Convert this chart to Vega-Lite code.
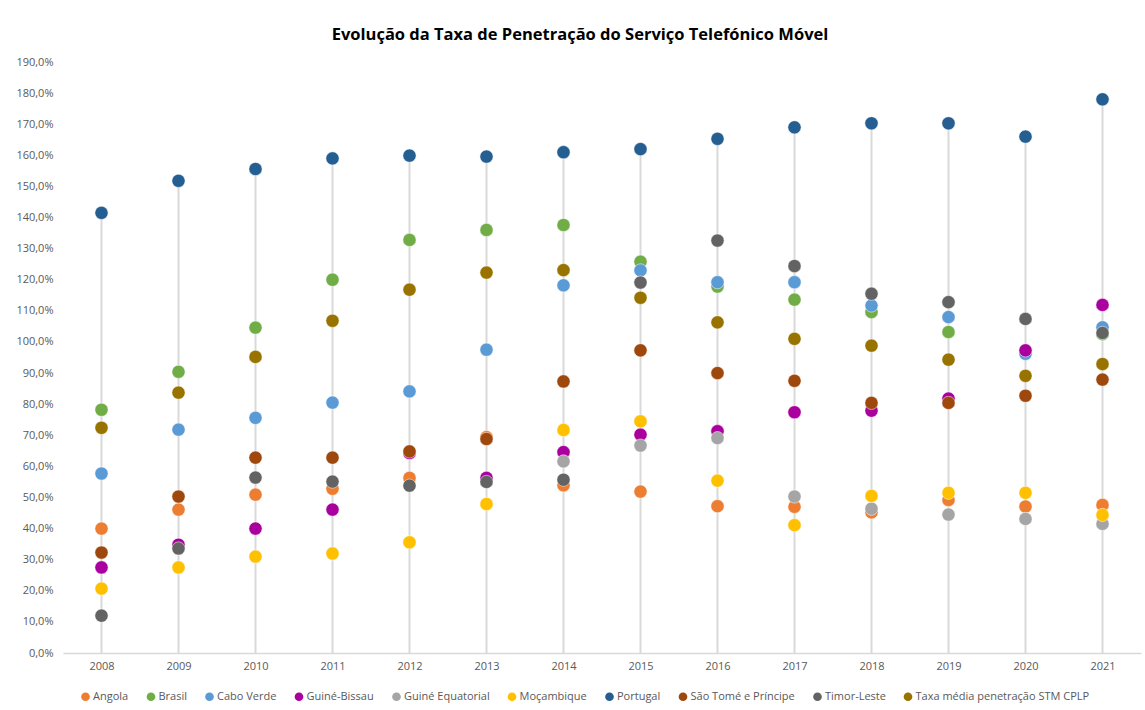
{
  "$schema": "https://vega.github.io/schema/vega-lite/v6.json",
  "width": 1078,
  "height": 591,
  "autosize": {"type": "none"},
  "padding": {"left": 63, "top": 62, "right": 4, "bottom": 57},
  "background": "white",
  "title": {
    "text": "Evolução da Taxa de Penetração do Serviço Telefónico Móvel",
    "fontSize": 16.5,
    "fontWeight": "bold",
    "font": "Open Sans",
    "color": "#000000",
    "anchor": "middle",
    "dx": -22,
    "offset": 13
  },
  "config": {
    "view": {"stroke": null},
    "font": "Open Sans",
    "axisY": {"labelOverlap": false}
  },
  "data": {
    "values": [
      {"pais": "Angola", "ano": "2008", "taxa": 40.0},
      {"pais": "Angola", "ano": "2009", "taxa": 46.1},
      {"pais": "Angola", "ano": "2010", "taxa": 50.9},
      {"pais": "Angola", "ano": "2011", "taxa": 52.8},
      {"pais": "Angola", "ano": "2012", "taxa": 56.3},
      {"pais": "Angola", "ano": "2013", "taxa": 69.4},
      {"pais": "Angola", "ano": "2014", "taxa": 53.9},
      {"pais": "Angola", "ano": "2015", "taxa": 51.9},
      {"pais": "Angola", "ano": "2016", "taxa": 47.2},
      {"pais": "Angola", "ano": "2017", "taxa": 47.0},
      {"pais": "Angola", "ano": "2018", "taxa": 45.2},
      {"pais": "Angola", "ano": "2019", "taxa": 49.2},
      {"pais": "Angola", "ano": "2020", "taxa": 47.1},
      {"pais": "Angola", "ano": "2021", "taxa": 47.6},
      {"pais": "Brasil", "ano": "2008", "taxa": 78.2},
      {"pais": "Brasil", "ano": "2009", "taxa": 90.4},
      {"pais": "Brasil", "ano": "2010", "taxa": 104.6},
      {"pais": "Brasil", "ano": "2011", "taxa": 120.0},
      {"pais": "Brasil", "ano": "2012", "taxa": 132.8},
      {"pais": "Brasil", "ano": "2013", "taxa": 136.0},
      {"pais": "Brasil", "ano": "2014", "taxa": 137.6},
      {"pais": "Brasil", "ano": "2015", "taxa": 125.8},
      {"pais": "Brasil", "ano": "2016", "taxa": 117.8},
      {"pais": "Brasil", "ano": "2017", "taxa": 113.6},
      {"pais": "Brasil", "ano": "2018", "taxa": 109.6},
      {"pais": "Brasil", "ano": "2019", "taxa": 103.2},
      {"pais": "Brasil", "ano": "2020", "taxa": 96.5},
      {"pais": "Brasil", "ano": "2021", "taxa": 102.5},
      {"pais": "Cabo Verde", "ano": "2008", "taxa": 57.7},
      {"pais": "Cabo Verde", "ano": "2009", "taxa": 71.8},
      {"pais": "Cabo Verde", "ano": "2010", "taxa": 75.6},
      {"pais": "Cabo Verde", "ano": "2011", "taxa": 80.5},
      {"pais": "Cabo Verde", "ano": "2012", "taxa": 84.1},
      {"pais": "Cabo Verde", "ano": "2013", "taxa": 97.5},
      {"pais": "Cabo Verde", "ano": "2014", "taxa": 118.2},
      {"pais": "Cabo Verde", "ano": "2015", "taxa": 123.0},
      {"pais": "Cabo Verde", "ano": "2016", "taxa": 119.2},
      {"pais": "Cabo Verde", "ano": "2017", "taxa": 119.2},
      {"pais": "Cabo Verde", "ano": "2018", "taxa": 111.7},
      {"pais": "Cabo Verde", "ano": "2019", "taxa": 108.0},
      {"pais": "Cabo Verde", "ano": "2020", "taxa": 96.2},
      {"pais": "Cabo Verde", "ano": "2021", "taxa": 104.7},
      {"pais": "Guiné-Bissau", "ano": "2008", "taxa": 27.5},
      {"pais": "Guiné-Bissau", "ano": "2009", "taxa": 34.8},
      {"pais": "Guiné-Bissau", "ano": "2010", "taxa": 40.0},
      {"pais": "Guiné-Bissau", "ano": "2011", "taxa": 46.1},
      {"pais": "Guiné-Bissau", "ano": "2012", "taxa": 64.3},
      {"pais": "Guiné-Bissau", "ano": "2013", "taxa": 56.3},
      {"pais": "Guiné-Bissau", "ano": "2014", "taxa": 64.6},
      {"pais": "Guiné-Bissau", "ano": "2015", "taxa": 70.2},
      {"pais": "Guiné-Bissau", "ano": "2016", "taxa": 71.3},
      {"pais": "Guiné-Bissau", "ano": "2017", "taxa": 77.4},
      {"pais": "Guiné-Bissau", "ano": "2018", "taxa": 77.9},
      {"pais": "Guiné-Bissau", "ano": "2019", "taxa": 81.8},
      {"pais": "Guiné-Bissau", "ano": "2020", "taxa": 97.3},
      {"pais": "Guiné-Bissau", "ano": "2021", "taxa": 111.9},
      {"pais": "Guiné Equatorial", "ano": "2014", "taxa": 61.6},
      {"pais": "Guiné Equatorial", "ano": "2015", "taxa": 66.7},
      {"pais": "Guiné Equatorial", "ano": "2016", "taxa": 69.1},
      {"pais": "Guiné Equatorial", "ano": "2017", "taxa": 50.3},
      {"pais": "Guiné Equatorial", "ano": "2018", "taxa": 46.4},
      {"pais": "Guiné Equatorial", "ano": "2019", "taxa": 44.5},
      {"pais": "Guiné Equatorial", "ano": "2020", "taxa": 43.1},
      {"pais": "Guiné Equatorial", "ano": "2021", "taxa": 41.5},
      {"pais": "Moçambique", "ano": "2008", "taxa": 20.7},
      {"pais": "Moçambique", "ano": "2009", "taxa": 27.5},
      {"pais": "Moçambique", "ano": "2010", "taxa": 31.0},
      {"pais": "Moçambique", "ano": "2011", "taxa": 32.0},
      {"pais": "Moçambique", "ano": "2012", "taxa": 35.6},
      {"pais": "Moçambique", "ano": "2013", "taxa": 47.9},
      {"pais": "Moçambique", "ano": "2014", "taxa": 71.7},
      {"pais": "Moçambique", "ano": "2015", "taxa": 74.5},
      {"pais": "Moçambique", "ano": "2016", "taxa": 55.4},
      {"pais": "Moçambique", "ano": "2017", "taxa": 41.1},
      {"pais": "Moçambique", "ano": "2018", "taxa": 50.5},
      {"pais": "Moçambique", "ano": "2019", "taxa": 51.5},
      {"pais": "Moçambique", "ano": "2020", "taxa": 51.5},
      {"pais": "Moçambique", "ano": "2021", "taxa": 44.4},
      {"pais": "Portugal", "ano": "2008", "taxa": 141.5},
      {"pais": "Portugal", "ano": "2009", "taxa": 151.8},
      {"pais": "Portugal", "ano": "2010", "taxa": 155.6},
      {"pais": "Portugal", "ano": "2011", "taxa": 159.0},
      {"pais": "Portugal", "ano": "2012", "taxa": 159.9},
      {"pais": "Portugal", "ano": "2013", "taxa": 159.6},
      {"pais": "Portugal", "ano": "2014", "taxa": 161.0},
      {"pais": "Portugal", "ano": "2015", "taxa": 162.0},
      {"pais": "Portugal", "ano": "2016", "taxa": 165.3},
      {"pais": "Portugal", "ano": "2017", "taxa": 169.0},
      {"pais": "Portugal", "ano": "2018", "taxa": 170.3},
      {"pais": "Portugal", "ano": "2019", "taxa": 170.3},
      {"pais": "Portugal", "ano": "2020", "taxa": 166.0},
      {"pais": "Portugal", "ano": "2021", "taxa": 178.0},
      {"pais": "São Tomé e Príncipe", "ano": "2008", "taxa": 32.3},
      {"pais": "São Tomé e Príncipe", "ano": "2009", "taxa": 50.3},
      {"pais": "São Tomé e Príncipe", "ano": "2010", "taxa": 62.8},
      {"pais": "São Tomé e Príncipe", "ano": "2011", "taxa": 62.8},
      {"pais": "São Tomé e Príncipe", "ano": "2012", "taxa": 64.8},
      {"pais": "São Tomé e Príncipe", "ano": "2013", "taxa": 68.8},
      {"pais": "São Tomé e Príncipe", "ano": "2014", "taxa": 87.3},
      {"pais": "São Tomé e Príncipe", "ano": "2015", "taxa": 97.3},
      {"pais": "São Tomé e Príncipe", "ano": "2016", "taxa": 90.0},
      {"pais": "São Tomé e Príncipe", "ano": "2017", "taxa": 87.5},
      {"pais": "São Tomé e Príncipe", "ano": "2018", "taxa": 80.4},
      {"pais": "São Tomé e Príncipe", "ano": "2019", "taxa": 80.4},
      {"pais": "São Tomé e Príncipe", "ano": "2020", "taxa": 82.7},
      {"pais": "São Tomé e Príncipe", "ano": "2021", "taxa": 87.9},
      {"pais": "Timor-Leste", "ano": "2008", "taxa": 12.0},
      {"pais": "Timor-Leste", "ano": "2009", "taxa": 33.6},
      {"pais": "Timor-Leste", "ano": "2010", "taxa": 56.4},
      {"pais": "Timor-Leste", "ano": "2011", "taxa": 55.1},
      {"pais": "Timor-Leste", "ano": "2012", "taxa": 53.8},
      {"pais": "Timor-Leste", "ano": "2013", "taxa": 55.0},
      {"pais": "Timor-Leste", "ano": "2014", "taxa": 55.7},
      {"pais": "Timor-Leste", "ano": "2015", "taxa": 119.1},
      {"pais": "Timor-Leste", "ano": "2016", "taxa": 132.6},
      {"pais": "Timor-Leste", "ano": "2017", "taxa": 124.4},
      {"pais": "Timor-Leste", "ano": "2018", "taxa": 115.5},
      {"pais": "Timor-Leste", "ano": "2019", "taxa": 112.8},
      {"pais": "Timor-Leste", "ano": "2020", "taxa": 107.4},
      {"pais": "Timor-Leste", "ano": "2021", "taxa": 102.9},
      {"pais": "Taxa média penetração STM CPLP", "ano": "2008", "taxa": 72.4},
      {"pais": "Taxa média penetração STM CPLP", "ano": "2009", "taxa": 83.7},
      {"pais": "Taxa média penetração STM CPLP", "ano": "2010", "taxa": 95.2},
      {"pais": "Taxa média penetração STM CPLP", "ano": "2011", "taxa": 106.8},
      {"pais": "Taxa média penetração STM CPLP", "ano": "2012", "taxa": 116.8},
      {"pais": "Taxa média penetração STM CPLP", "ano": "2013", "taxa": 122.3},
      {"pais": "Taxa média penetração STM CPLP", "ano": "2014", "taxa": 123.1},
      {"pais": "Taxa média penetração STM CPLP", "ano": "2015", "taxa": 114.2},
      {"pais": "Taxa média penetração STM CPLP", "ano": "2016", "taxa": 106.3},
      {"pais": "Taxa média penetração STM CPLP", "ano": "2017", "taxa": 101.0},
      {"pais": "Taxa média penetração STM CPLP", "ano": "2018", "taxa": 98.8},
      {"pais": "Taxa média penetração STM CPLP", "ano": "2019", "taxa": 94.3},
      {"pais": "Taxa média penetração STM CPLP", "ano": "2020", "taxa": 89.1},
      {"pais": "Taxa média penetração STM CPLP", "ano": "2021", "taxa": 92.9}
    ]
  },
  "encoding": {
    "x": {
      "field": "ano",
      "type": "ordinal",
      "title": null,
      "scale": {"type": "point", "padding": 0.5},
      "axis": {
        "labelAngle": 0,
        "labelFontSize": 11,
        "labelColor": "#595959",
        "labelPadding": 7,
        "ticks": false,
        "domainColor": "#d9d9d9",
        "domainWidth": 1.5,
        "grid": false
      }
    }
  },
  "layer": [
    {
      "mark": {"type": "rule", "color": "#d9d9d9", "strokeWidth": 2},
      "encoding": {
        "y": {
          "aggregate": "max",
          "field": "taxa",
          "type": "quantitative",
          "title": null,
          "scale": {"domain": [0, 190], "nice": false},
          "axis": {
            "values": [0, 10, 20, 30, 40, 50, 60, 70, 80, 90, 100, 110, 120, 130, 140, 150, 160, 170, 180, 190],
            "labelExpr": "replace(format(datum.value, '.1f'), '.', ',') + '%'",
            "labelOverlap": false,
            "labelFontSize": 11,
            "labelColor": "#595959",
            "labelPadding": 10,
            "ticks": false,
            "domain": false,
            "grid": false
          }
        },
        "y2": {"datum": 0}
      }
    },
    {
      "mark": {"type": "point", "shape": "circle", "filled": true, "size": 175, "opacity": 1, "stroke": "white", "strokeWidth": 0.5},
      "encoding": {
        "y": {
          "field": "taxa",
          "type": "quantitative",
          "title": null,
          "scale": {"domain": [0, 190], "nice": false},
          "axis": {
            "values": [0, 10, 20, 30, 40, 50, 60, 70, 80, 90, 100, 110, 120, 130, 140, 150, 160, 170, 180, 190],
            "labelExpr": "replace(format(datum.value, '.1f'), '.', ',') + '%'",
            "labelOverlap": false,
            "labelFontSize": 11,
            "labelColor": "#595959",
            "labelPadding": 10,
            "ticks": false,
            "domain": false,
            "grid": false
          }
        },
        "color": {
          "field": "pais",
          "type": "nominal",
          "scale": {
            "domain": ["Angola", "Brasil", "Cabo Verde", "Guiné-Bissau", "Guiné Equatorial", "Moçambique", "Portugal", "São Tomé e Príncipe", "Timor-Leste", "Taxa média penetração STM CPLP"],
            "range": ["#ED7D31", "#70AD47", "#5B9BD5", "#AA009E", "#A5A5A5", "#FFC000", "#255E91", "#9E480E", "#636363", "#997300"]
          },
          "legend": {
            "title": null,
            "orient": "none",
            "direction": "horizontal",
            "legendX": 17,
            "legendY": 629,
            "symbolType": "circle",
            "symbolSize": 75,
            "symbolStrokeWidth": 0,
            "labelFontSize": 11,
            "labelColor": "#595959",
            "labelOffset": 2,
            "columnPadding": 16.5,
            "labelLimit": 300
          }
        }
      }
    }
  ]
}
